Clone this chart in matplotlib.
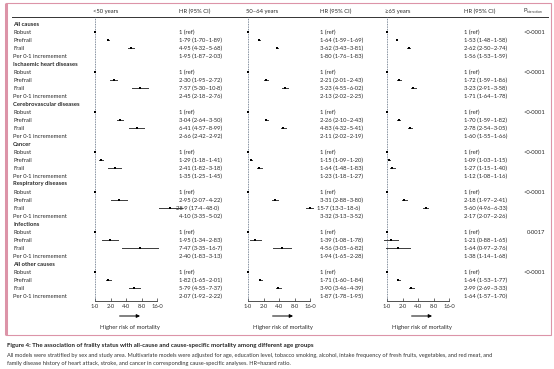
import numpy as np
import matplotlib
matplotlib.use("Agg")
import matplotlib.pyplot as plt
from matplotlib.patches import Rectangle

plt.rcParams["font.family"] = ["Lato", "DejaVu Sans"]

GROUPS = ["All causes", "Ischaemic heart diseases", "Cerebrovascular diseases",
          "Cancer", "Respiratory diseases", "Infections", "All other causes"]
LEVELS = ["Robust", "Prefrail", "Frail", "Per 0·1 incremement"]
AGE_GROUPS = ["<50 years", "50–64 years", "≥65 years"]

# HR, lower and upper CI per group: robust, prefrail, frail, per 0.1 increment
HR_U50 = [[1, 1.79, 4.95, 1.95], [1, 2.30, 7.57, 2.45], [1, 3.04, 6.41, 2.66],
          [1, 1.29, 2.41, 1.35], [1, 2.95, 28.9, 4.10], [1, 1.95, 7.47, 2.40],
          [1, 1.82, 5.79, 2.07]]
LO_U50 = [[1, 1.70, 4.32, 1.87], [1, 1.95, 5.30, 2.18], [1, 2.64, 4.57, 2.42],
          [1, 1.18, 1.82, 1.25], [1, 2.07, 17.4, 3.35], [1, 1.34, 3.35, 1.83],
          [1, 1.65, 4.55, 1.92]]
HI_U50 = [[1, 1.89, 5.68, 2.03], [1, 2.72, 10.8, 2.76], [1, 3.50, 8.99, 2.92],
          [1, 1.41, 3.18, 1.45], [1, 4.22, 48.0, 5.02], [1, 2.83, 16.7, 3.13],
          [1, 2.01, 7.37, 2.22]]

HR_50_64 = [[1, 1.64, 3.62, 1.80], [1, 2.21, 5.23, 2.13], [1, 2.26, 4.83, 2.11],
            [1, 1.15, 1.64, 1.23], [1, 3.31, 15.7, 3.32], [1, 1.39, 4.56, 1.94],
            [1, 1.71, 3.90, 1.87]]
LO_50_64 = [[1, 1.59, 3.43, 1.76], [1, 2.01, 4.55, 2.02], [1, 2.10, 4.32, 2.02],
            [1, 1.09, 1.48, 1.18], [1, 2.88, 13.3, 3.13], [1, 1.08, 3.05, 1.65],
            [1, 1.60, 3.46, 1.78]]
HI_50_64 = [[1, 1.69, 3.81, 1.83], [1, 2.43, 6.02, 2.25], [1, 2.43, 5.41, 2.19],
            [1, 1.20, 1.83, 1.27], [1, 3.80, 18.6, 3.52], [1, 1.78, 6.82, 2.28],
            [1, 1.84, 4.39, 1.95]]

HR_65 = [[1, 1.53, 2.62, 1.56], [1, 1.72, 3.23, 1.71], [1, 1.70, 2.78, 1.60],
         [1, 1.09, 1.27, 1.12], [1, 2.18, 5.60, 2.17], [1, 1.21, 1.64, 1.38],
         [1, 1.64, 2.99, 1.64]]
LO_65 = [[1, 1.48, 2.50, 1.53], [1, 1.59, 2.91, 1.64], [1, 1.59, 2.54, 1.55],
         [1, 1.03, 1.15, 1.08], [1, 1.97, 4.96, 2.07], [1, 0.88, 0.97, 1.14],
         [1, 1.53, 2.69, 1.57]]
HI_65 = [[1, 1.58, 2.74, 1.59], [1, 1.86, 3.58, 1.78], [1, 1.82, 3.05, 1.66],
         [1, 1.15, 1.40, 1.16], [1, 2.41, 6.33, 2.26], [1, 1.65, 2.76, 1.68],
         [1, 1.77, 3.33, 1.70]]

P_INTERACTION = ["<0·0001", "<0·0001", "<0·0001", "<0·0001", "<0·0001", "0·0017", "<0·0001"]

TICKS = [1, 2, 4, 8, 16]
TICK_LABELS = ["1·0", "2·0", "4·0", "8·0", "16·0"]

# layout (pixels)
W, H = 554, 369
ROW0, ROW_H = 24, 8
PANEL_X = [95, 248, 387]        # pixel position of HR = 1
HR_TEXT_X = [179, 320, 464]
PX_PER_DOUBLING = 15.5
XMIN, XMAX = 0.8, 40
AX_TOP, AX_BOTTOM = 17, 301
FS = 4.2
TXT = "#2a2a2a"
PINK = "#dc94a8"


def fmt(v):
    s = f"{v:.1f}" if v >= 10 else f"{v:.2f}"
    return s.replace(".", "·")


def ypix(i):
    return ROW0 + ROW_H * i


fig = plt.figure(figsize=(W / 100, H / 100), dpi=100)
bg = fig.add_axes([0, 0, 1, 1])
bg.set_xlim(0, W)
bg.set_ylim(H, 0)
bg.axis("off")

# pink frame
bg.add_patch(Rectangle((5.5, 3), 545, 332, fill=False, edgecolor=PINK, lw=0.8))
bg.plot([6, 6], [3, 335], color=PINK, lw=2.2, solid_capstyle="butt")

# header
hy = 11
for x, name in zip(PANEL_X, AGE_GROUPS):
    bg.text(x - 2, hy, name, fontsize=FS, color=TXT, va="center", ha="left")
for x in HR_TEXT_X:
    bg.text(x, hy, "HR (95% CI)", fontsize=FS, color=TXT, va="center", ha="left")
bg.text(523, hy, "P", fontsize=FS, color=TXT, va="center", ha="left")
bg.text(526.5, hy + 1.2, "interaction", fontsize=2.3, color=TXT, va="center", ha="left")
bg.plot([12, 548], [AX_TOP, AX_TOP], color="#333333", lw=0.7)

# row labels and texts
all_hr = [HR_U50, HR_50_64, HR_65]
all_lo = [LO_U50, LO_50_64, LO_65]
all_hi = [HI_U50, HI_50_64, HI_65]

row = 0
for g, group in enumerate(GROUPS):
    bg.text(13, ypix(row), group, fontsize=FS, color=TXT, fontweight="bold", va="center")
    row += 1
    for k, lev in enumerate(LEVELS):
        y = ypix(row)
        bg.text(13, y, lev, fontsize=FS, color=TXT, va="center")
        for p in range(3):
            hr = all_hr[p][g][k]
            if k == 0:
                s = "1 (ref)"
            else:
                s = f"{fmt(hr)} ({fmt(all_lo[p][g][k])}–{fmt(all_hi[p][g][k])})"
            shift = 2.6 if hr >= 10 else 0
            bg.text(HR_TEXT_X[p] - shift, y, s, fontsize=FS, color=TXT, va="center")
        if k == 0:
            bg.text(545, y, P_INTERACTION[g], fontsize=FS, color=TXT, va="center", ha="right")
        row += 1

# forest panels
for p in range(3):
    x1 = PANEL_X[p]
    left = x1 + np.log2(XMIN) * PX_PER_DOUBLING
    right = x1 + np.log2(XMAX) * PX_PER_DOUBLING
    ax = fig.add_axes([left / W, 1 - AX_BOTTOM / H, (right - left) / W, (AX_BOTTOM - AX_TOP) / H])
    ax.set_xscale("log", base=2)
    ax.set_xlim(XMIN, XMAX)
    ax.set_ylim((AX_BOTTOM - ROW0) / ROW_H, (AX_TOP - ROW0) / ROW_H)
    ax.patch.set_visible(False)
    for side in ["top", "right", "left"]:
        ax.spines[side].set_visible(False)
    ax.spines["bottom"].set_bounds(1, 16)
    ax.spines["bottom"].set_linewidth(0.6)
    ax.spines["bottom"].set_color("#333333")
    ax.set_yticks([])
    ax.set_xticks(TICKS)
    ax.set_xticklabels(TICK_LABELS)
    ax.xaxis.set_minor_locator(matplotlib.ticker.NullLocator())
    ax.tick_params(axis="x", direction="in", length=2.5, width=0.5, pad=2,
                   labelsize=FS, colors="#333333")
    ax.axvline(1, color="#55657a", lw=0.6, ls=(0, (1, 1)))

    for g in range(len(GROUPS)):
        for k in range(3):
            yi = g * 5 + 1 + k
            hr = all_hr[p][g][k]
            lo = all_lo[p][g][k]
            hi = all_hi[p][g][k]
            if k > 0:
                ax.plot([lo, hi], [yi, yi], color="#3a3a3a", lw=0.7, clip_on=False)
            ax.plot([hr], [yi], marker="s", ms=2.0, mew=0, color="black", clip_on=False)

    ya = (316 - ROW0) / ROW_H
    ax.annotate("", xy=(7.5, ya), xytext=(3, ya), annotation_clip=False,
                arrowprops=dict(arrowstyle="-|>", lw=0.7, color="black", mutation_scale=5,
                                shrinkA=0, shrinkB=0))
    ax.text(4.8, (328 - ROW0) / ROW_H, "Higher risk of mortality", fontsize=FS,
            color=TXT, ha="center", va="center", clip_on=False)

# caption
bg.text(7, 346, "Figure 4: The association of frailty status with all-cause and cause-specific "
        "mortality among different age groups", fontsize=4.4, fontweight="bold",
        color="#222222", va="center")
bg.text(7, 355.5, "All models were stratified by sex and study area. Multivariate models were "
        "adjusted for age, education level, tobacco smoking, alcohol, intake frequency of fresh "
        "fruits, vegetables, and red meat, and", fontsize=4.1, color="#333333", va="center")
bg.text(7, 363.5, "family disease history of heart attack, stroke, and cancer in corresponding "
        "cause-specific analyses. HR=hazard ratio.", fontsize=4.1, color="#333333", va="center")

fig.savefig("out.png", dpi=100)
